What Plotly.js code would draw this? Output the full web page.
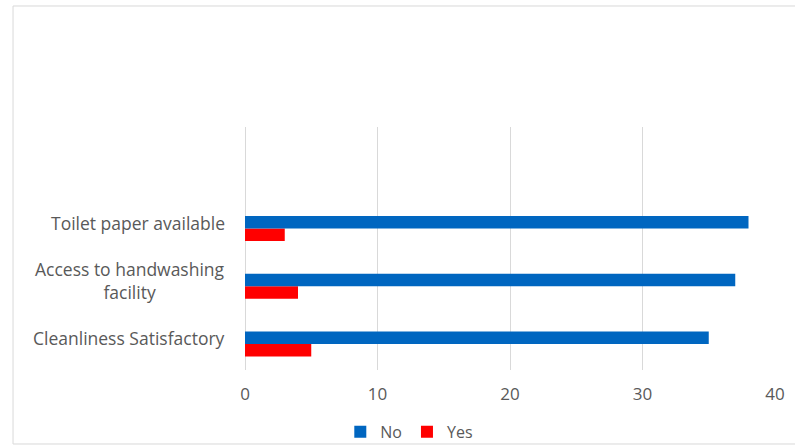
<!DOCTYPE html>
<html>
<head>
<meta charset="utf-8">
<script src="https://cdn.plot.ly/plotly-3.0.1.min.js"></script>
<style>
  html, body { margin: 0; padding: 0; background: #ffffff; }
  #chart { width: 795px; height: 446px; }
</style>
</head>
<body>
<div id="chart"></div>
<script>
// Categories (bottom to top)
const categories = ["Cleanliness Satisfactory", "Access to handwashing facility", "Toilet paper available"];
const categoryLabels = ["Cleanliness Satisfactory", "Access to handwashing<br>facility", "Toilet paper available"];
// Series values
const noValues = [35, 37, 38];
const yesValues = [5, 4, 3];
// X-axis ticks
const xTicks = [0, 10, 20, 30, 40];

const textColor = "#595959";
const fontFamily = "Open Sans, sans-serif";

const traces = [
  {
    type: "bar", orientation: "h", name: "Yes",
    y: categories, x: yesValues,
    marker: { color: "#ff0000" },
    hoverinfo: "x+name"
  },
  {
    type: "bar", orientation: "h", name: "No",
    y: categories, x: noValues,
    marker: { color: "#0066c0" },
    hoverinfo: "x+name"
  }
];

const annotations = categories.map((c, i) => ({
  xref: "paper", yref: "y", x: 0, y: c,
  text: categoryLabels[i],
  xanchor: "right", yanchor: "middle", align: "center",
  xshift: -18, yshift: 6,
  showarrow: false,
  font: { family: fontFamily, size: 17.5, color: textColor }
}));

const layout = {
  width: 795, height: 446,
  margin: { l: 245, r: 20, t: 127, b: 76, autoexpand: false },
  paper_bgcolor: "#ffffff", plot_bgcolor: "#ffffff",
  barmode: "group", bargap: 0.567, bargroupgap: 0,
  showlegend: true,
  legend: {
    orientation: "h", traceorder: "reversed",
    x: 0.31, xanchor: "center", y: -0.255, yanchor: "middle",
    font: { family: fontFamily, size: 16, color: textColor },
    bgcolor: "rgba(0,0,0,0)",
    itemwidth: 30
  },
  xaxis: {
    range: [0, 40], tickvals: xTicks, ticktext: xTicks.map(String),
    showgrid: true, gridcolor: "#d9d9d9", gridwidth: 1,
    zeroline: true, zerolinecolor: "#d9d9d9", zerolinewidth: 1,
    showline: false, ticks: "",
    tickfont: { family: fontFamily, size: 17, color: textColor },
    ticklabelstandoff: 12
  },
  yaxis: {
    type: "category", categoryorder: "array", categoryarray: categories,
    range: [-0.45, 3.76],
    showticklabels: false, showgrid: false, zeroline: false, showline: false, ticks: ""
  },
  annotations: annotations,
  shapes: [{
    type: "rect", xref: "paper", yref: "paper",
    x0: -0.4377, x1: 1.2, y0: -0.3045, y1: 1.498,
    line: { color: "#d9d9d9", width: 1 }, fillcolor: "rgba(0,0,0,0)",
    layer: "below"
  }]
};

Plotly.newPlot("chart", traces, layout, { displayModeBar: false, staticPlot: true });
</script>
</body>
</html>
